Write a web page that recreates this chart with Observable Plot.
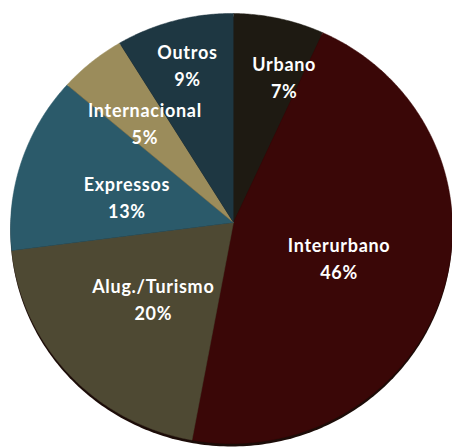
<!DOCTYPE html>
<html>
<head>
<meta charset="utf-8">
<script src="https://cdn.jsdelivr.net/npm/d3@7"></script>
<script src="https://cdn.jsdelivr.net/npm/@observablehq/plot@0.6"></script>
<style>
  html, body { margin: 0; padding: 0; background: #ffffff; }
  #chart svg { display: block; }
  #chart text { letter-spacing: 0.7px; }
</style>
</head>
<body>
<div id="chart"></div>
<script>
// ---- data ----
const categories = ["Urbano", "Interurbano", "Alug./Turismo", "Expressos", "Internacional", "Outros"];
const shares = [7, 46, 20, 13, 5, 9];
const percentLabels = ["7%", "46%", "20%", "13%", "5%", "9%"];
const sliceColors = ["#1e1a12", "#3a0707", "#4e4933", "#2b5a6a", "#9b8c5b", "#1e3742"];

// ---- layout (pixel geometry of the tilted pie) ----
const W = 452, H = 448;
const apex = [233, 222];          // where slices meet
const ell = {cx: 231, cy: 228, rx: 221, ry: 215};
const labelRadius = {"Urbano": 155, "Interurbano": 111, "Alug./Turismo": 110, "Expressos": 110, "Internacional": 134, "Outros": 165};
const labelNudgeDeg = {"Urbano": 6.5, "Expressos": -2};

function rayToEllipse(theta) {
  const dx = Math.sin(theta), dy = -Math.cos(theta);
  const ux = apex[0] - ell.cx, uy = apex[1] - ell.cy;
  const a = dx * dx / (ell.rx * ell.rx) + dy * dy / (ell.ry * ell.ry);
  const b = 2 * (ux * dx / (ell.rx * ell.rx) + uy * dy / (ell.ry * ell.ry));
  const c = ux * ux / (ell.rx * ell.rx) + uy * uy / (ell.ry * ell.ry) - 1;
  const t = (-b + Math.sqrt(b * b - 4 * a * c)) / (2 * a);
  return [apex[0] + t * dx, apex[1] + t * dy];
}

const total = d3.sum(shares);
const slicePoints = [];
const labels = [];
let acc = 0;
categories.forEach((name, i) => {
  const a0 = acc / total * 2 * Math.PI;
  acc += shares[i];
  const a1 = acc / total * 2 * Math.PI;
  slicePoints.push({name, x: apex[0], y: apex[1]});
  const steps = Math.max(2, Math.ceil((a1 - a0) / (Math.PI / 360)));
  for (let k = 0; k <= steps; k++) {
    const p = rayToEllipse(a0 + (a1 - a0) * k / steps);
    slicePoints.push({name, x: p[0], y: p[1]});
  }
  const mid = (a0 + a1) / 2 + (labelNudgeDeg[name] || 0) * Math.PI / 180;
  const r = labelRadius[name];
  labels.push({name, text: name + "\n" + percentLabels[i],
    x: apex[0] + r * Math.sin(mid), y: apex[1] - r * Math.cos(mid)});
});

// shadow rim (3D side of the pie)
const rim = d3.range(0, 361, 1).map(d => {
  const t = d * Math.PI / 180;
  return {x: ell.cx + ell.rx * Math.sin(t), y: ell.cy + 3 - ell.ry * Math.cos(t)};
});

const chart = Plot.plot({
  width: W, height: H, margin: 0,
  style: {background: "#ffffff", overflow: "visible"},
  x: {domain: [0, W], range: [0, W], axis: null},
  y: {domain: [0, H], range: [0, H], axis: null},
  color: {domain: categories, range: sliceColors},
  marks: [
    Plot.line(rim, {x: "x", y: "y", fill: "#1c0c08", stroke: "none", curve: "linear"}),
    Plot.line(slicePoints, {x: "x", y: "y", z: "name", fill: "name", stroke: "name", strokeWidth: 0.5, curve: "linear"}),
    Plot.text(labels, {x: "x", y: "y", text: "text", fill: "#ffffff", fontSize: 18, fontWeight: "bold",
      fontFamily: "Lato, 'Open Sans', sans-serif", lineHeight: 1.5, textAnchor: "middle"})
  ]
});
document.getElementById("chart").appendChild(chart);
</script>
</body>
</html>
